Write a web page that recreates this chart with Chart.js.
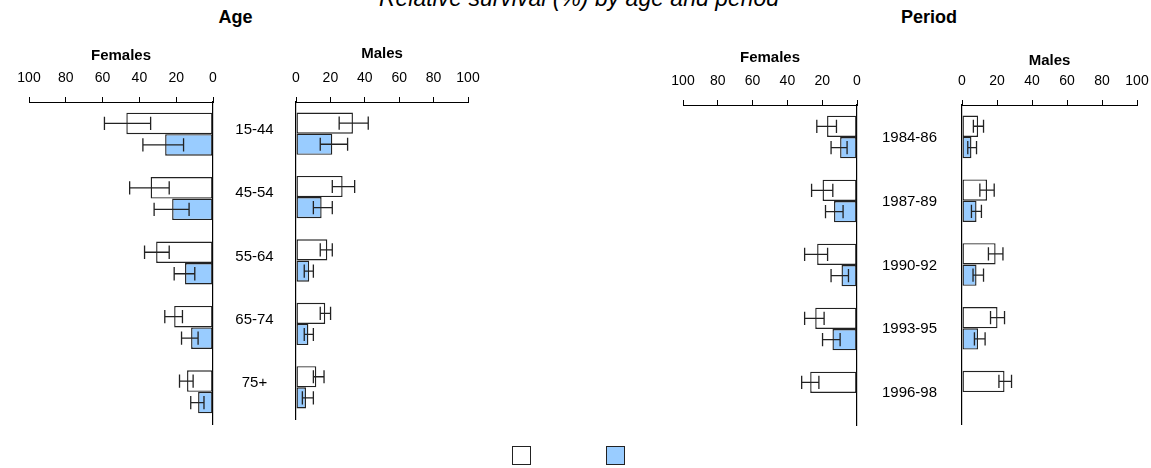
<!DOCTYPE html>
<html>
<head>
<meta charset="utf-8">
<script src="https://cdn.jsdelivr.net/npm/chart.js@4.4.1/dist/chart.umd.min.js"></script>
<style>
  html, body { margin:0; padding:0; background:#fff; }
  #wrap { position:relative; width:1151px; height:468px; overflow:hidden; background:#fff;
          font-family:"Liberation Sans", Arial, Helvetica, sans-serif; color:#000; }
  .panel { position:absolute; }
  .txt { position:absolute; white-space:nowrap; transform:translateX(-50%); }
  .sq { position:absolute; width:17px; height:17px; border:1.5px solid #222; }
</style>
</head>
<body>
<div id="wrap">
  <div class="txt" style="left:579px; top:-13.5px; font-size:23px; line-height:23px; font-style:italic;">Relative survival (%) by age and period</div>
  <div class="txt" style="left:235.5px; top:8px; font-size:18px; line-height:18px; font-weight:bold;">Age</div>
  <div class="txt" style="left:929px; top:8px; font-size:18px; line-height:18px; font-weight:bold;">Period</div>
  <div class="panel" id="pLF"><canvas id="cLF"></canvas></div>
  <div class="panel" id="pLM"><canvas id="cLM"></canvas></div>
  <div class="panel" id="pRF"><canvas id="cRF"></canvas></div>
  <div class="panel" id="pRM"><canvas id="cRM"></canvas></div>
  <div class="sq" style="left:512px; top:446px; background:#ffffff;"></div>
  <div class="sq" style="left:606px; top:446px; background:#99ccff;"></div>
</div>
<script>
// ---------------- DATA ----------------
const ageCats = ['15-44', '45-54', '55-64', '65-74', '75+'];
const periodCats = ['1984-86', '1987-89', '1990-92', '1993-95', '1996-98'];
const xTicks = [0, 20, 40, 60, 80, 100];

// Age, females
const ageFemA   = [47.1, 33.9, 30.9, 21.1, 14.1];
const ageFemALo = [33.9, 23.8, 23.8, 16.6, 10.8];
const ageFemAHi = [59.0, 45.3, 37.2, 26.2, 18.2];
const ageFemB   = [26.0, 22.2, 15.2, 11.9, 8.1];
const ageFemBLo = [16.0, 13.0, 9.9, 8.1, 4.9];
const ageFemBHi = [38.1, 32.0, 21.1, 17.1, 12.1];
// Age, males
const ageMalA   = [33.1, 27.1, 18.2, 17.0, 11.8];
const ageMalALo = [25.1, 21.1, 14.1, 14.1, 10.1];
const ageMalAHi = [42.0, 34.1, 21.1, 20.1, 16.3];
const ageMalB   = [21.1, 14.9, 7.7, 7.2, 5.8];
const ageMalBLo = [14.1, 10.1, 4.8, 4.8, 3.7];
const ageMalBHi = [30.0, 21.1, 10.1, 10.1, 10.1];
// Period, females
const perFemA   = [17.2, 19.8, 22.9, 24.0, 26.9];
const perFemALo = [11.8, 13.9, 16.9, 18.9, 21.9];
const perFemAHi = [23.1, 26.1, 30.1, 30.1, 31.8];
const perFemB   = [9.7, 13.2, 8.9, 14.1, null];
const perFemBLo = [5.7, 8.0, 4.9, 9.7, null];
const perFemBHi = [14.9, 18.1, 14.9, 19.8, null];
// Period, males
const perMalA   = [9.2, 14.3, 19.2, 20.3, 24.3];
const perMalALo = [6.5, 10.2, 15.1, 16.3, 21.1];
const perMalAHi = [12.3, 18.4, 23.4, 24.3, 28.3];
const perMalB   = [5.4, 8.3, 8.3, 9.2, null];
const perMalBLo = [3.3, 5.4, 6.3, 7.1, null];
const perMalBHi = [8.3, 11.1, 12.3, 13.2, null];

// ---------------- STYLE / LAYOUT ----------------
const FAMILY = '"Liberation Sans", Arial, Helvetica, sans-serif';
Chart.defaults.font.family = FAMILY;
Chart.defaults.color = '#000';
const COLOR_A = '#ffffff';
const COLOR_B = '#99ccff';
const EDGE = '#222222';

const errorBars = {
  id: 'errorBars',
  afterDatasetsDraw(chart) {
    const ctx = chart.ctx;
    const xs = chart.scales.x;
    chart.data.datasets.forEach((ds, di) => {
      const meta = chart.getDatasetMeta(di);
      meta.data.forEach((bar, i) => {
        const lo = ds.errLo[i], hi = ds.errHi[i];
        if (ds.data[i] == null || lo == null || hi == null) return;
        const x1 = xs.getPixelForValue(lo), x2 = xs.getPixelForValue(hi);
        const y = bar.y, h = bar.height * 0.62;
        ctx.save();
        ctx.strokeStyle = '#222';
        ctx.lineWidth = 1.3;
        ctx.beginPath();
        ctx.moveTo(x1, y); ctx.lineTo(x2, y);
        ctx.moveTo(x1, y - h / 2); ctx.lineTo(x1, y + h / 2);
        ctx.moveTo(x2, y - h / 2); ctx.lineTo(x2, y + h / 2);
        ctx.stroke();
        ctx.restore();
      });
    });
  }
};

const measureCtx = document.createElement('canvas').getContext('2d');
function widest(labels, size) {
  measureCtx.font = 'normal ' + size + 'px ' + FAMILY;
  return Math.max(...labels.map(l => measureCtx.measureText(l).width));
}

function makePanel(cfg) {
  const female = cfg.female;
  const padL = female ? 20 : 0;
  const padR = female ? 0 : cfg.padR;
  const padB = 4;
  const H = cfg.t - cfg.axisTop;
  const div = document.getElementById(cfg.div);
  div.style.left = (female ? cfg.l - padL : cfg.l - cfg.yW) + 'px';
  div.style.top = cfg.axisTop + 'px';
  div.style.width = (padL + (cfg.r - cfg.l) + cfg.yW + padR) + 'px';
  div.style.height = (H + (cfg.b - cfg.t) + padB) + 'px';
  const labelPad = female ? 0 : Math.max(0, cfg.gapHalf - widest(cfg.cats, 15) / 2);

  new Chart(document.getElementById(cfg.canvas), {
    type: 'bar',
    data: {
      labels: cfg.cats,
      datasets: [
        { data: cfg.a, errLo: cfg.aLo, errHi: cfg.aHi, backgroundColor: COLOR_A,
          borderColor: EDGE, borderWidth: 1.4, borderSkipped: false,
          categoryPercentage: 0.667, barPercentage: 1.0 },
        { data: cfg.bv, errLo: cfg.bLo, errHi: cfg.bHi, backgroundColor: COLOR_B,
          borderColor: EDGE, borderWidth: 1.4, borderSkipped: false,
          categoryPercentage: 0.667, barPercentage: 1.0 }
      ]
    },
    options: {
      indexAxis: 'y',
      responsive: true,
      maintainAspectRatio: false,
      animation: false,
      events: [],
      layout: { padding: { left: padL, right: padR, top: 0, bottom: padB } },
      plugins: { legend: { display: false }, tooltip: { enabled: false }, title: { display: false } },
      scales: {
        x: {
          type: 'linear', position: 'top', min: 0, max: 100, reverse: female,
          afterBuildTicks(s) { s.ticks = xTicks.map(v => ({ value: v })); },
          ticks: { color: '#000', font: { size: 14 }, padding: 10, maxRotation: 0, autoSkip: false },
          grid: { display: true, drawOnChartArea: false, drawTicks: true, tickLength: 5, color: '#000', lineWidth: 1 },
          border: { display: true, color: '#000', width: 1 },
          title: { display: true, text: female ? 'Females' : 'Males', color: '#000',
                   font: { size: 15, weight: 'bold' }, padding: 0 },
          afterFit(s) { s.height = H; s.paddingLeft = 0; s.paddingRight = 0; }
        },
        y: {
          type: 'category', position: female ? 'right' : 'left', offset: true,
          ticks: { display: !female, color: '#000', font: { size: 15 }, padding: labelPad,
                   crossAlign: 'center', autoSkip: false, labelOffset: cfg.labelOffset || 0 },
          grid: { display: false, drawTicks: false },
          border: { display: true, color: '#000', width: 1.2 },
          afterFit(s) { s.width = cfg.yW; s.paddingTop = 0; s.paddingBottom = 0; }
        }
      }
    },
    plugins: [errorBars]
  });
}

makePanel({ div: 'pLF', canvas: 'cLF', female: true, cats: ageCats,
  a: ageFemA, aLo: ageFemALo, aHi: ageFemAHi, bv: ageFemB, bLo: ageFemBLo, bHi: ageFemBHi,
  l: 29, r: 213, t: 102, b: 424, axisTop: 47, yW: 8 });
makePanel({ div: 'pLM', canvas: 'cLM', female: false, cats: ageCats,
  a: ageMalA, aLo: ageMalALo, aHi: ageMalAHi, bv: ageMalB, bLo: ageMalBLo, bHi: ageMalBHi,
  l: 296, r: 468, t: 102, b: 419, axisTop: 45, yW: 83, padR: 16, gapHalf: 41.5, labelOffset: -4 });
makePanel({ div: 'pRF', canvas: 'cRF', female: true, cats: periodCats,
  a: perFemA, aLo: perFemALo, aHi: perFemAHi, bv: perFemB, bLo: perFemBLo, bHi: perFemBHi,
  l: 683, r: 857, t: 105, b: 425, axisTop: 49, yW: 8 });
makePanel({ div: 'pRM', canvas: 'cRM', female: false, cats: periodCats,
  a: perMalA, aLo: perMalALo, aHi: perMalAHi, bv: perMalB, bLo: perMalBLo, bHi: perMalBHi,
  l: 962, r: 1137, t: 105, b: 424, axisTop: 52, yW: 105, padR: 13, gapHalf: 52.5, labelOffset: 1 });
</script>
</body>
</html>
